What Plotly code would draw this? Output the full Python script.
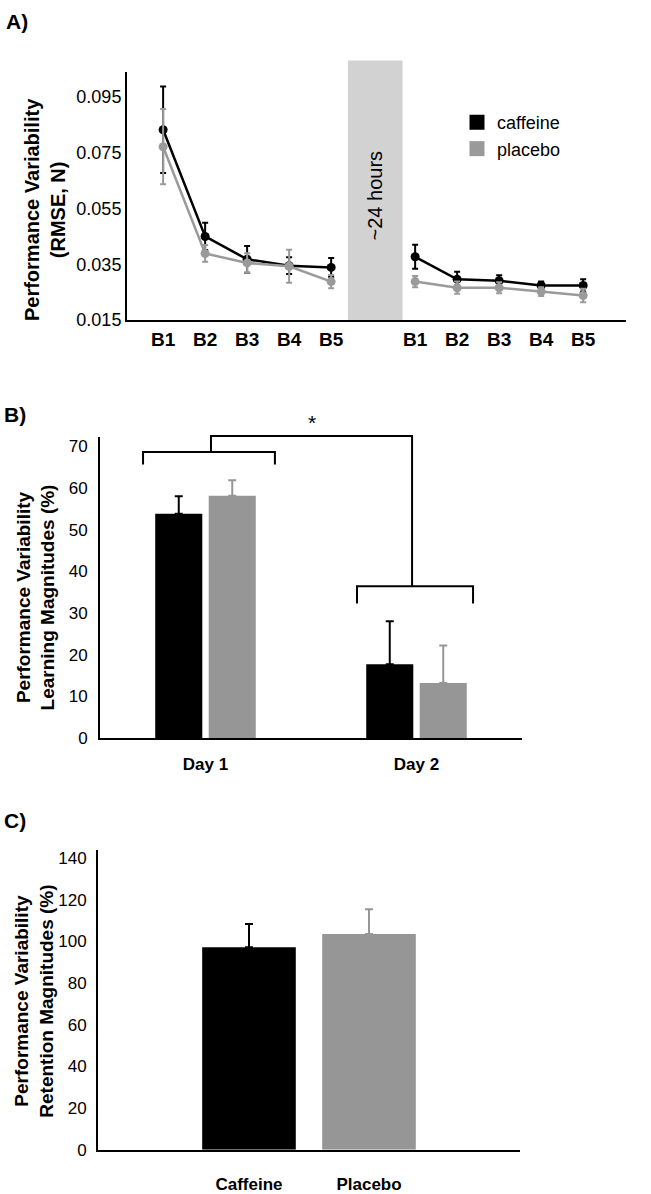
import plotly.graph_objects as go

# ---------------- Panel A data ----------------
blocks = ["B1", "B2", "B3", "B4", "B5"]
day1_pos = [1, 2, 3, 4, 5]
day2_pos = [7, 8, 9, 10, 11]
caf_d1 = [0.0833, 0.0450, 0.0368, 0.0345, 0.0339]
caf_d1_err = [0.0155, 0.0049, 0.0048, 0.0030, 0.0034]
pla_d1 = [0.0772, 0.0389, 0.0355, 0.0343, 0.0288]
pla_d1_err = [0.0135, 0.0030, 0.0035, 0.0059, 0.0024]
caf_d2 = [0.0377, 0.0296, 0.0291, 0.0274, 0.0274]
caf_d2_err = [0.0043, 0.0027, 0.0020, 0.0014, 0.0022]
pla_d2 = [0.0288, 0.0266, 0.0266, 0.0252, 0.0238]
pla_d2_err = [0.0020, 0.0022, 0.0020, 0.0016, 0.0024]
a_ticks = [0.015, 0.035, 0.055, 0.075, 0.095]

# ---------------- Panel B data ----------------
days = ["Day 1", "Day 2"]
learn_caf = [53.8, 17.7]
learn_caf_err = [4.2, 10.3]
learn_pla = [58.1, 13.2]
learn_pla_err = [3.7, 9.0]

# ---------------- Panel C data ----------------
groups = ["Caffeine", "Placebo"]
ret_vals = [97.2, 103.5]
ret_err = [11.1, 11.9]

BLACK = "#000000"
GRAY_LINE = "#9a9a9a"
GRAY_BAR = "#969696"
BAND = "#d2d2d2"
FONT = "Liberation Sans, Arial, sans-serif"

W, H = 651, 1194
def px(x):
    return x / W
def py(y):
    return 1 - y / H

fig = go.Figure()

# Panel A traces
for xs, ys, es in [(day1_pos, caf_d1, caf_d1_err), (day2_pos, caf_d2, caf_d2_err)]:
    fig.add_trace(go.Scatter(
        x=xs, y=ys, mode="lines+markers", xaxis="x", yaxis="y",
        line=dict(color=BLACK, width=2.5), marker=dict(color=BLACK, size=9),
        error_y=dict(type="data", array=es, color=BLACK, thickness=2, width=3),
        showlegend=False))
for xs, ys, es in [(day1_pos, pla_d1, pla_d1_err), (day2_pos, pla_d2, pla_d2_err)]:
    fig.add_trace(go.Scatter(
        x=xs, y=ys, mode="lines+markers", xaxis="x", yaxis="y",
        line=dict(color=GRAY_LINE, width=2.5), marker=dict(color=GRAY_LINE, size=9),
        error_y=dict(type="data", array=es, color=GRAY_LINE, thickness=2, width=3),
        showlegend=False))
# legend entries (square swatches)
fig.add_trace(go.Scatter(x=[None], y=[None], mode="markers", name="caffeine",
                         marker=dict(symbol="square", color=BLACK, size=15),
                         xaxis="x", yaxis="y"))
fig.add_trace(go.Scatter(x=[None], y=[None], mode="markers", name="placebo",
                         marker=dict(symbol="square", color=GRAY_LINE, size=15),
                         xaxis="x", yaxis="y"))

# Panel B bars
fig.add_trace(go.Bar(
    x=days, y=learn_caf, xaxis="x2", yaxis="y2", marker=dict(color=BLACK, line=dict(width=0)),
    error_y=dict(type="data", symmetric=False, array=learn_caf_err, arrayminus=[0, 0],
                 color=BLACK, thickness=2, width=4),
    showlegend=False))
fig.add_trace(go.Bar(
    x=days, y=learn_pla, xaxis="x2", yaxis="y2", marker=dict(color=GRAY_BAR, line=dict(width=0)),
    error_y=dict(type="data", symmetric=False, array=learn_pla_err, arrayminus=[0, 0],
                 color=GRAY_BAR, thickness=2, width=4),
    showlegend=False))

# Panel C bars
for g, v, e, c in zip(groups, ret_vals, ret_err, [BLACK, GRAY_BAR]):
    fig.add_trace(go.Bar(
        x=[g], y=[v], xaxis="x3", yaxis="y3", width=0.78, offset=-0.39,
        marker=dict(color=c, line=dict(width=0)),
        error_y=dict(type="data", symmetric=False, array=[e], arrayminus=[0],
                     color=c, thickness=2, width=4),
        showlegend=False))

axis_common = dict(showgrid=False, zeroline=False, showline=True, linecolor=BLACK,
                   linewidth=2, ticks="")

YB_MAX = 72.2
YC_MAX = 143.8

fig.update_layout(
    width=W, height=H,
    margin=dict(l=0, r=0, t=0, b=0),
    paper_bgcolor="white", plot_bgcolor="white",
    font=dict(family=FONT, color=BLACK),
    barmode="group", bargap=0.493, bargroupgap=0.12,
    xaxis=dict(axis_common, domain=[px(127), px(626)], range=[0.14, 12.02],
               tickmode="array", tickvals=day1_pos + day2_pos, ticktext=blocks + blocks,
               tickfont=dict(size=19, weight="bold"), anchor="y", ticklabelstandoff=1),
    yaxis=dict(axis_common, domain=[py(322), py(72)], range=[0.015, 0.1039],
               tickmode="array", tickvals=a_ticks, tickformat=".3f",
               tickfont=dict(size=18), anchor="x", ticklabelstandoff=0),
    xaxis2=dict(axis_common, domain=[px(100), px(522)], range=[-0.5, 1.5],
                type="category", tickfont=dict(size=17, weight="bold"), anchor="y2",
                ticklabelstandoff=9),
    yaxis2=dict(axis_common, domain=[py(744), py(440)], range=[0, YB_MAX], dtick=10,
                tickfont=dict(size=17), anchor="x2", ticklabelstandoff=7),
    xaxis3=dict(axis_common, domain=[px(98), px(520)], range=[-1.258, 2.258],
                type="category", tickfont=dict(size=17, weight="bold"), anchor="y3",
                ticklabelstandoff=18),
    yaxis3=dict(axis_common, domain=[py(1159.5), py(857)], range=[0, YC_MAX], dtick=20,
                tickfont=dict(size=17), anchor="x3", ticklabelstandoff=6),
    legend=dict(x=px(457), y=py(104), xanchor="left", yanchor="top",
                font=dict(size=18), bgcolor="rgba(0,0,0,0)", tracegroupgap=0),
)

# 24 hour band in panel A
fig.add_shape(type="rect", xref="x", yref="paper", x0=5.4, x1=6.7,
              y0=py(322), y1=py(60), fillcolor=BAND, line=dict(width=0), layer="below")

# Brackets in panel B (data units, y converted to domain fraction)
brackets = [
    [(-0.296, 65.6), (-0.296, 68.6), (0.329, 68.6), (0.329, 65.6)],
    [(0.026, 68.6), (0.026, 72.4), (0.979, 72.4), (0.979, 36.4)],
    [(0.718, 32.3), (0.718, 36.4), (1.268, 36.4), (1.268, 32.3)],
]
for pts in brackets:
    path = "M " + " L ".join(f"{x},{y / YB_MAX}" for x, y in pts)
    fig.add_shape(type="path", xref="x2", yref="y2 domain", path=path,
                  line=dict(color=BLACK, width=2))

annotations = [
    dict(text="<b>A)</b>", x=px(4), y=py(21), xref="paper", yref="paper",
         xanchor="left", yanchor="middle", showarrow=False, font=dict(size=21)),
    dict(text="<b>B)</b>", x=px(2), y=py(417), xref="paper", yref="paper",
         xanchor="left", yanchor="middle", showarrow=False, font=dict(size=21)),
    dict(text="<b>C)</b>", x=px(2), y=py(827), xref="paper", yref="paper",
         xanchor="left", yanchor="middle", showarrow=False, font=dict(size=21)),
    dict(text="<b>Performance Variability<br>(RMSE, N)</b>", x=px(45), y=py(211),
         xref="paper", yref="paper", xanchor="center", yanchor="middle",
         textangle=-90, showarrow=False, font=dict(size=20)),
    dict(text="<b>Performance Variability<br>Learning Magnitudes (%)</b>", x=px(36), y=py(602),
         xref="paper", yref="paper", xanchor="center", yanchor="middle",
         textangle=-90, showarrow=False, font=dict(size=19)),
    dict(text="<b>Performance Variability<br>Retention Magnitudes (%)</b>", x=px(34), y=py(1010),
         xref="paper", yref="paper", xanchor="center", yanchor="middle",
         textangle=-90, showarrow=False, font=dict(size=19)),
    dict(text="~24 hours", x=6.05, y=py(196), xref="x", yref="paper", textangle=-90,
         xanchor="center", yanchor="middle", showarrow=False, font=dict(size=20)),
    dict(text="*", x=0.505, y=75.6 / YB_MAX, xref="x2", yref="y2 domain", showarrow=False,
         xanchor="center", yanchor="middle", font=dict(size=21)),
]
fig.update_layout(annotations=annotations)

fig.write_html("out.html", config={"displayModeBar": False},
               post_script="document.body.style.margin='0px';")
